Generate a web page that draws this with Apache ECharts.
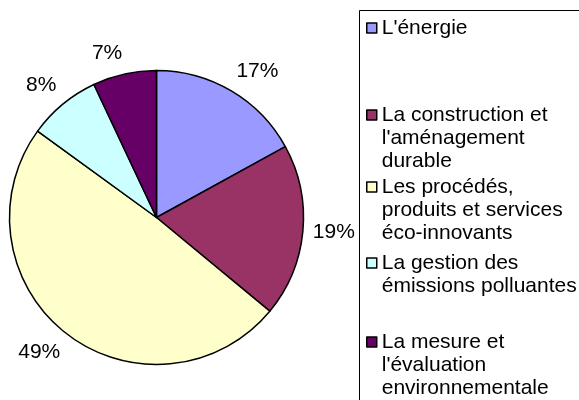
<!DOCTYPE html>
<html>
<head>
<meta charset="utf-8">
<script src="https://cdn.jsdelivr.net/npm/echarts@6/dist/echarts.min.js"></script>
<style>
  html, body { margin: 0; padding: 0; background: #fff; }
  #chart { width: 579px; height: 400px; }
</style>
</head>
<body>
<div id="chart"></div>
<script>
// données
const categories = [
  "L'énergie",
  "La construction et\nl'aménagement\ndurable",
  "Les procédés,\nproduits et services\néco-innovants",
  "La gestion des\némissions polluantes",
  "La mesure et\nl'évaluation\nenvironnementale"
];
const values = [17, 19, 49, 8, 7];
const colors = ['#9999ff', '#993366', '#ffffcc', '#ccffff', '#660066'];

// légende : centre (y) de la première ligne de chaque entrée
const legendCenters = [28, 115, 187, 263, 342];
const lineH = 23;
const fontFamily = '"Liberation Sans", Arial, sans-serif';
const cx = 156.5, cy = 217.5;

const chart = echarts.init(document.getElementById('chart'));

// une légende par entrée ; des lignes vides au-dessus du texte
// pour que le carré reste aligné sur la première ligne
const legends = categories.map((name, i) => {
  const n = name.split('\n').length;
  const blockH = (2 * n - 1) * lineH;
  return {
    orient: 'vertical',
    left: 366,
    top: legendCenters[i] - blockH / 2,
    padding: 0,
    itemWidth: 10,
    itemHeight: 10,
    icon: 'rect',
    selectedMode: false,
    itemStyle: { borderColor: '#000', borderWidth: 1.5 },
    textStyle: {
      fontFamily: fontFamily,
      fontSize: 21,
      lineHeight: lineH,
      color: '#000'
    },
    formatter: (nm) => '\n'.repeat(nm.split('\n').length - 1) + nm,
    data: [name]
  };
});

chart.setOption({
  backgroundColor: '#fff',
  animation: false,
  legend: legends,
  graphic: [{
    type: 'rect',
    shape: { x: 359.5, y: 10.5, width: 400, height: 500 },
    style: { fill: 'none', stroke: '#000', lineWidth: 1 },
    silent: true
  }],
  series: [{
    type: 'pie',
    center: [cx, cy],
    radius: 147,
    startAngle: 90,
    clockwise: true,
    avoidLabelOverlap: false,
    emphasis: { disabled: true },
    itemStyle: { borderColor: '#000', borderWidth: 1.5 },
    label: {
      show: true,
      position: 'outside',
      formatter: '{d}%',
      fontFamily: fontFamily,
      fontSize: 21,
      lineHeight: 22,
      color: '#000',
      distanceToLabelLine: 0
    },
    labelLine: { show: false, length: 10, length2: 0 },
    // comme Excel : le coin du texte le plus proche du disque touche le repère
    labelLayout: (p) => {
      const my = p.labelRect.y + p.labelRect.height / 2;
      if (my < cy - 40) return { verticalAlign: 'bottom' };
      if (my > cy + 40) return { verticalAlign: 'top' };
      return {};
    },
    data: categories.map((name, i) => ({
      name: name,
      value: values[i],
      itemStyle: { color: colors[i] }
    }))
  }]
});
</script>
</body>
</html>
